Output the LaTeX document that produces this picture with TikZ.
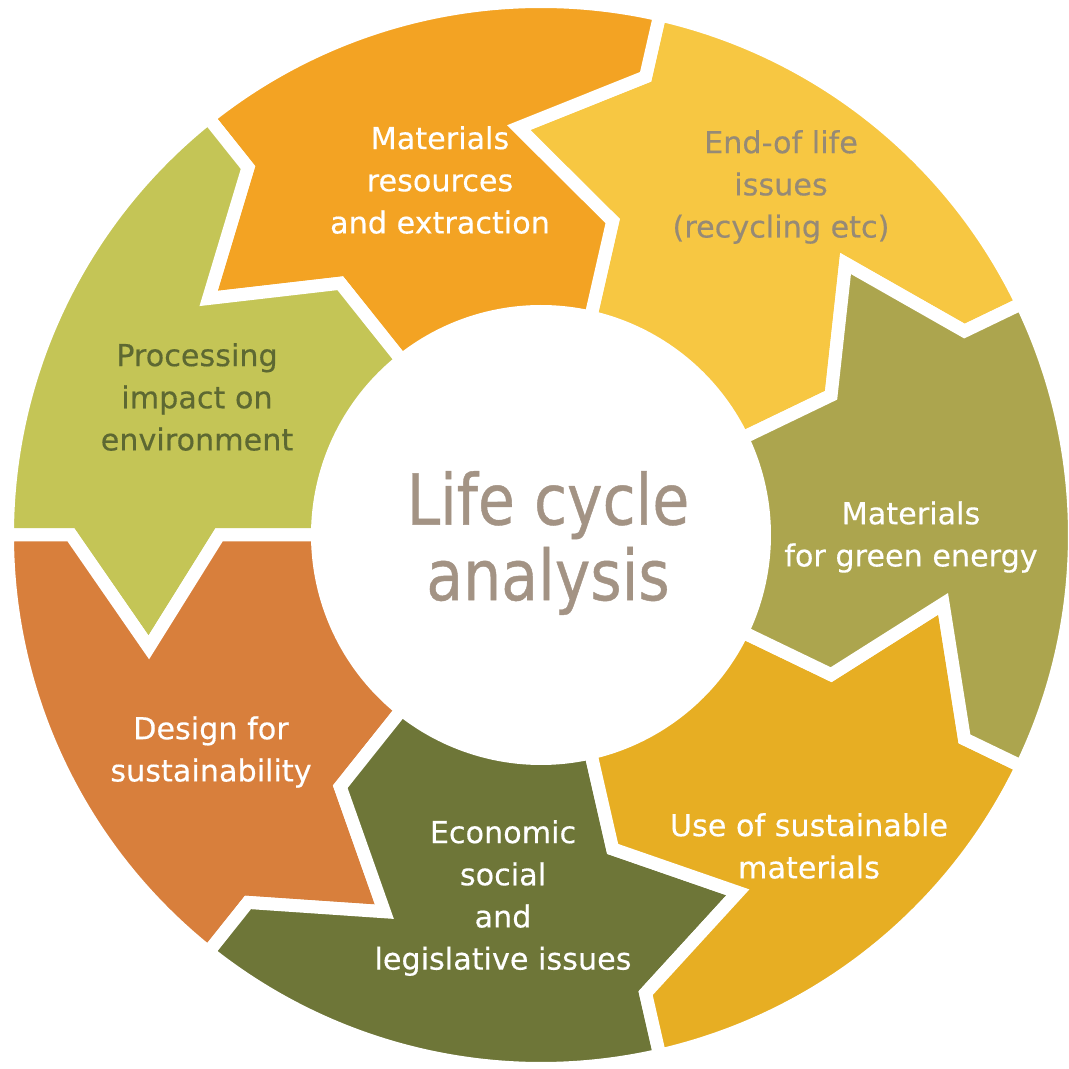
\documentclass[tikz,border=0pt]{standalone}
\usepackage{fontspec}
\setmainfont{DejaVu Sans}[FakeBold=0.35]
\newfontfamily\lcatitlefont{DejaVu Sans}[FakeStretch=0.855, FakeBold=0.6]
\usepackage{xcolor}

\definecolor{lcaResources}{RGB}{243,163,35}
\definecolor{lcaEnd}{RGB}{247,199,66}
\definecolor{lcaEnergy}{RGB}{172,165,78}
\definecolor{lcaUse}{RGB}{231,174,35}
\definecolor{lcaEconomic}{RGB}{110,118,56}
\definecolor{lcaDesign}{RGB}{216,127,60}
\definecolor{lcaProcessing}{RGB}{196,197,86}
\definecolor{lcaEndText}{RGB}{150,138,118}
\definecolor{lcaProcText}{RGB}{93,104,50}
\definecolor{lcaTitle}{RGB}{163,147,132}

\begin{document}
\begin{tikzpicture}[
    lca segment/.style={draw=white, line width=0.13cm, line join=miter},
    lca label/.style={align=center, font=\fontsize{8.6}{12}\selectfont, text=white},
    lca title/.style={align=center, font=\lcatitlefont\fontsize{20}{21.5}\selectfont, text=lcaTitle}]

    \useasboundingbox (-5.41,-5.34) rectangle (5.27,5.35);

    % ring of arrows, each one points counter-clockwise into the next
    \filldraw [lca segment, fill=lcaEnd] (25.71:5.335) arc[start angle=25.71, end angle=77.14, radius=5.335] -- (77.14:4.70) -- (93.14:4.08) -- (77.14:3.22) -- (77.14:2.235) arc[start angle=77.14, end angle=25.71, radius=2.235] -- (25.71:3.22) -- (41.71:4.08) -- (25.71:4.70) -- cycle;
    \filldraw [lca segment, fill=lcaResources] (77.14:5.335) arc[start angle=77.14, end angle=128.57, radius=5.335] -- (128.57:4.70) -- (144.57:4.08) -- (128.57:3.22) -- (128.57:2.235) arc[start angle=128.57, end angle=77.14, radius=2.235] -- (77.14:3.22) -- (93.14:4.08) -- (77.14:4.70) -- cycle;
    \filldraw [lca segment, fill=lcaProcessing] (128.57:5.335) arc[start angle=128.57, end angle=180, radius=5.335] -- (180:4.70) -- (196:4.08) -- (180:3.22) -- (180:2.235) arc[start angle=180, end angle=128.57, radius=2.235] -- (128.57:3.22) -- (144.57:4.08) -- (128.57:4.70) -- cycle;
    \filldraw [lca segment, fill=lcaDesign] (180:5.335) arc[start angle=180, end angle=231.43, radius=5.335] -- (231.43:4.70) -- (247.43:4.08) -- (231.43:3.22) -- (231.43:2.235) arc[start angle=231.43, end angle=180, radius=2.235] -- (180:3.22) -- (196:4.08) -- (180:4.70) -- cycle;
    \filldraw [lca segment, fill=lcaEconomic] (231.43:5.335) arc[start angle=231.43, end angle=282.86, radius=5.335] -- (282.86:4.70) -- (298.86:4.08) -- (282.86:3.22) -- (282.86:2.235) arc[start angle=282.86, end angle=231.43, radius=2.235] -- (231.43:3.22) -- (247.43:4.08) -- (231.43:4.70) -- cycle;
    \filldraw [lca segment, fill=lcaUse] (282.86:5.335) arc[start angle=282.86, end angle=334.29, radius=5.335] -- (334.29:4.70) -- (350.29:4.08) -- (334.29:3.22) -- (334.29:2.235) arc[start angle=334.29, end angle=282.86, radius=2.235] -- (282.86:3.22) -- (298.86:4.08) -- (282.86:4.70) -- cycle;
    \filldraw [lca segment, fill=lcaEnergy] (334.29:5.335) arc[start angle=334.29, end angle=385.71, radius=5.335] -- (385.71:4.70) -- (401.71:4.08) -- (385.71:3.22) -- (385.71:2.235) arc[start angle=385.71, end angle=334.29, radius=2.235] -- (334.29:3.22) -- (350.29:4.08) -- (334.29:4.70) -- cycle;

    % labels
    \node [lca title] (title) at (0.07,-0.08) {Life cycle\\analysis};
    \node [lca label] (resources) at (-1.01,3.55) {Materials\\resources\\and extraction};
    \node [lca label, text=lcaEndText] (endoflife) at (2.40,3.48) {End-of life\\issues\\(recycling etc)};
    \node [lca label] (energy) at (3.70,-0.02) {Materials\\for green energy};
    \node [lca label] (use) at (2.68,-3.11) {Use of sustainable\\materials};
    \node [lca label] (economic) at (-0.38,-3.63) {Economic\\social\\and\\legislative issues};
    \node [lca label] (design) at (-3.30,-2.17) {Design for\\sustainability};
    \node [lca label, text=lcaProcText] (processing) at (-3.44,1.38) {Processing\\impact on\\environment};

\end{tikzpicture}
\end{document}
